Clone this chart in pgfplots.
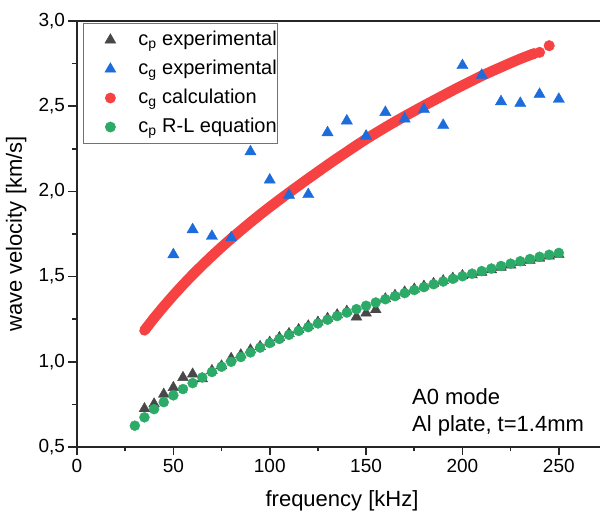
\documentclass[border=0pt]{standalone}
\usepackage{pgfplots}
\pgfplotsset{compat=1.18}
\usepackage{fontspec}
\setmainfont{Liberation Sans}
\definecolor{cgray}{RGB}{72,72,72}
\definecolor{cblue}{RGB}{28,108,220}
\definecolor{cred}{RGB}{246,66,66}
\definecolor{cgreen}{RGB}{44,170,104}
\begin{document}
\begin{tikzpicture}
\useasboundingbox (-77pt,-71pt) rectangle (523pt,447pt);
\begin{axis}[
  at={(0pt,0pt)}, anchor=south west,
  scale only axis, width=530pt, height=426pt,
  xmin=0, xmax=275, ymin=0.5, ymax=3.0,
  axis x line*=box, axis y line*=left,
  x axis line style={-}, y axis line style={-},
  axis line style={line width=1.7pt, black!85},
  xtick={0,50,100,150,200,250},
  ytick={0.5,1.0,1.5,2.0,2.5,3.0},
  minor x tick num=1, minor y tick num=1,
  xtick pos=left, ytick pos=left,
  tick align=outside,
  major tick length=8.5pt, minor tick length=4.5pt,
  every tick/.style={line width=1.6pt, black!85},
  /pgf/number format/assume math mode=true,
  ticklabel style={font=\fontsize{19}{22}\selectfont},
  yticklabel style={/pgf/number format/.cd, use comma, fixed, fixed zerofill, precision=1},
  xlabel={frequency [kHz]},
  ylabel={wave velocity [km/s]},
  label style={font=\fontsize{22}{26}\selectfont, inner sep=0pt},
  xlabel style={at={(rel axis cs:0.5,-0.1408)}, anchor=base},
  ylabel style={at={(rel axis cs:-0.1038,0.5)}, anchor=base},
  legend cell align=left,
  legend style={at={(rel axis cs:0.0113,0.995)}, anchor=north west,
    draw=black!55, line width=0.8pt, inner xsep=0pt, inner ysep=2pt,
    font=\fontsize{20}{24}\selectfont, row sep=0pt,
    nodes={inner xsep=1pt, inner ysep=4.5pt, text height=15pt, text depth=5pt}},
  legend image code/.code={\path[draw=none, fill=none] (-27pt,0pt) (27pt,0pt); \draw[#1] plot coordinates {(0pt,0pt)};},
]
% c_p experimental (gray triangles)
\addplot[only marks, mark=triangle*, mark size=6.2pt, color=cgray, mark options={draw=none, fill=cgray}, forget plot] coordinates {
(35,0.725)(40,0.753)(45,0.810)(50,0.849)(55,0.908)(60,0.928)(65,0.900)
(70,0.949)(75,0.976)(80,1.020)(85,1.041)(90,1.070)(95,1.090)(100,1.115)
(105,1.142)(110,1.166)(115,1.189)(120,1.211)(125,1.233)(130,1.255)(135,1.276)
(140,1.297)(145,1.263)(150,1.286)(155,1.306)(160,1.370)(165,1.390)(170,1.410)
(175,1.427)(180,1.444)(185,1.460)(190,1.476)(195,1.491)(200,1.506)(205,1.510)
(210,1.525)(215,1.540)(220,1.555)(225,1.568)(230,1.582)(235,1.595)(240,1.608)
(245,1.620)(250,1.630)};
% c_g calculation (red, dense points drawn as a band)
\addplot[cred, line width=10.5pt, line cap=round, line join=round, forget plot] coordinates {
(35,1.184)(40,1.257)(45,1.325)(50,1.390)(55,1.452)(60,1.511)(65,1.567)
(70,1.621)(75,1.673)(80,1.723)(85,1.771)(90,1.818)(95,1.864)(100,1.908)
(105,1.951)(110,1.993)(115,2.034)(120,2.075)(125,2.115)(130,2.155)(135,2.194)
(140,2.232)(145,2.270)(150,2.307)(155,2.342)(160,2.376)(165,2.409)(170,2.441)
(175,2.472)(180,2.503)(185,2.533)(190,2.563)(195,2.593)(200,2.622)(205,2.650)
(210,2.678)(215,2.704)(220,2.729)(225,2.754)(230,2.778)(235,2.800)(237,2.808)};
\addplot[only marks, mark=*, mark size=5.3pt, color=cred, mark options={draw=none, fill=cred}, forget plot] coordinates {
(237,2.808)(240,2.816)(245,2.855)};
% c_g experimental (blue triangles)
\addplot[only marks, mark=triangle*, mark size=6.5pt, color=cblue, mark options={draw=none, fill=cblue}, forget plot] coordinates {
(50,1.629)(60,1.776)(70,1.737)(80,1.728)(90,2.233)(100,2.067)(110,1.978)
(120,1.982)(130,2.345)(140,2.414)(150,2.325)(160,2.464)(170,2.426)(180,2.482)
(190,2.388)(200,2.739)(210,2.682)(220,2.527)(230,2.517)(240,2.570)(250,2.541)};
% c_p R-L equation (green circles)
\addplot[only marks, mark=*, mark size=5pt, color=cgreen, mark options={draw=none, fill=cgreen}, forget plot] coordinates {
(30,0.625)(35,0.674)(40,0.722)(45,0.763)(50,0.803)(55,0.840)(60,0.875)
(65,0.908)(70,0.940)(75,0.971)(80,1.000)(85,1.028)(90,1.055)(95,1.083)
(100,1.110)(105,1.134)(110,1.158)(115,1.181)(120,1.203)(125,1.225)(130,1.247)
(135,1.268)(140,1.289)(145,1.309)(150,1.329)(155,1.348)(160,1.367)(165,1.385)
(170,1.403)(175,1.421)(180,1.438)(185,1.455)(190,1.471)(195,1.487)(200,1.502)
(205,1.517)(210,1.532)(215,1.547)(220,1.562)(225,1.576)(230,1.590)(235,1.603)
(240,1.616)(245,1.628)(250,1.639)};
\addlegendimage{only marks, mark=triangle*, mark size=6pt, color=cgray, mark options={draw=none, fill=cgray}}
\addlegendentry{c\textsubscript{p} experimental}
\addlegendimage{only marks, mark=triangle*, mark size=6pt, color=cblue, mark options={draw=none, fill=cblue}}
\addlegendentry{c\textsubscript{g} experimental}
\addlegendimage{only marks, mark=*, mark size=5pt, color=cred, mark options={draw=none, fill=cred}}
\addlegendentry{c\textsubscript{g} calculation}
\addlegendimage{only marks, mark=*, mark size=5pt, color=cgreen, mark options={draw=none, fill=cgreen}}
\addlegendentry{c\textsubscript{p} R-L equation}
\node[anchor=base west, inner sep=0pt, font=\fontsize{22}{26}\selectfont] at (axis cs:173.8,0.75) {A0 mode};
\node[anchor=base west, inner sep=0pt, font=\fontsize{22}{26}\selectfont] at (axis cs:173.8,0.591) {Al plate, t=1.4mm};
\end{axis}
\end{tikzpicture}
\end{document}
